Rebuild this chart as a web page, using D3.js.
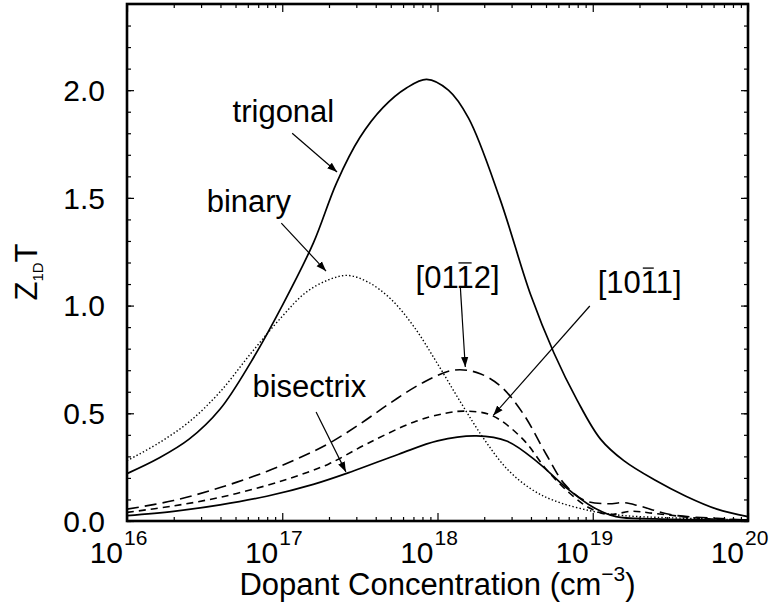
<!DOCTYPE html>
<html>
<head>
<meta charset="utf-8">
<script src="https://cdn.jsdelivr.net/npm/d3@7"></script>
<style>
  body { margin: 0; background: #fff; }
  text { font-family: "Liberation Sans", Arial, Helvetica, sans-serif; fill: #000; }
</style>
</head>
<body>
<script>
// data, x is log10 of concentration (cm^-3)
const trigonalLog = [16.0, 16.2, 16.4, 16.6, 16.8, 17.0, 17.2, 17.35, 17.5, 17.65, 17.8, 17.93, 18.07, 18.2, 18.4, 18.6, 18.75, 18.9, 19.05, 19.2, 19.4, 19.6, 19.8, 20.0];
const trigonalZT = [0.22, 0.29, 0.38, 0.52, 0.74, 1.00, 1.29, 1.57, 1.78, 1.92, 2.01, 2.05, 2.00, 1.87, 1.50, 1.05, 0.78, 0.56, 0.38, 0.28, 0.19, 0.115, 0.055, 0.02];

const binaryLog = [16.0, 16.2, 16.4, 16.6, 16.8, 17.0, 17.15, 17.3, 17.42, 17.55, 17.7, 17.85, 18.0, 18.15, 18.3, 18.45, 18.6, 18.75, 19.0, 19.2, 19.5, 20.0];
const binaryZT = [0.28, 0.36, 0.46, 0.60, 0.78, 0.95, 1.06, 1.12, 1.14, 1.11, 1.03, 0.90, 0.73, 0.55, 0.38, 0.24, 0.15, 0.095, 0.045, 0.025, 0.015, 0.005];

const d0112Log = [16.0, 16.3, 16.6, 16.9, 17.1, 17.3, 17.5, 17.7, 17.9, 18.1, 18.25, 18.4, 18.55, 18.7, 18.82, 18.95, 19.1, 19.2, 19.3, 19.5, 19.8, 20.0];
const d0112ZT = [0.055, 0.095, 0.155, 0.23, 0.29, 0.36, 0.45, 0.55, 0.64, 0.70, 0.69, 0.63, 0.50, 0.31, 0.17, 0.095, 0.08, 0.085, 0.07, 0.03, 0.012, 0.005];

const d1011Log = [16.0, 16.3, 16.6, 16.9, 17.1, 17.3, 17.55, 17.85, 18.05, 18.18, 18.35, 18.55, 18.7, 18.85, 18.98, 19.1, 19.25, 19.4, 19.7, 20.0];
const d1011ZT = [0.04, 0.07, 0.11, 0.165, 0.21, 0.265, 0.36, 0.46, 0.50, 0.51, 0.49, 0.38, 0.24, 0.13, 0.06, 0.03, 0.045, 0.035, 0.012, 0.005];

const bisectrixLog = [16.0, 16.3, 16.6, 16.9, 17.2, 17.45, 17.75, 18.0, 18.25, 18.45, 18.65, 18.82, 19.0, 19.15, 19.4, 20.0];
const bisectrixZT = [0.025, 0.045, 0.075, 0.115, 0.17, 0.23, 0.31, 0.372, 0.395, 0.37, 0.27, 0.16, 0.065, 0.02, 0.01, 0.003];

const yTickValues = [0.0, 0.5, 1.0, 1.5, 2.0];
const yTickLabels = ["0.0", "0.5", "1.0", "1.5", "2.0"];
const xDecades = [16, 17, 18, 19, 20];

const width = 769;
const height = 616;
const margin = { left: 127, right: 21, top: 4, bottom: 95 };

const svg = d3.select('body')
  .append('svg')
  .attr('width', width)
  .attr('height', height);

const x = d3.scaleLog()
  .domain([1e16, 1e20])
  .range([margin.left, width - margin.right]);
const y = d3.scaleLinear()
  .domain([0, 2.4])
  .range([height - margin.bottom, margin.top]);

const lx = (l) => x(Math.pow(10, l));

svg.append('svg:defs').append('svg:marker')
  .attr('id', 'arrow')
  .attr('viewBox', '0 -5 10 10')
  .attr('refX', 10)
  .attr('markerWidth', 10)
  .attr('markerHeight', 10)
  .attr('markerUnits', 'userSpaceOnUse')
  .attr('orient', 'auto')
  .append('svg:path')
  .attr('d', 'M0,-3.6L10,0L0,3.6Z')
  .attr('fill', '#000');

// curves
const series = [
  { xs: trigonalLog, ys: trigonalZT, dash: null, w: 1.7 },
  { xs: binaryLog, ys: binaryZT, dash: '1.4,2.2', w: 1.4 },
  { xs: d0112Log, ys: d0112ZT, dash: '12,6', w: 1.6 },
  { xs: d1011Log, ys: d1011ZT, dash: '7,5', w: 1.6 },
  { xs: bisectrixLog, ys: bisectrixZT, dash: null, w: 1.7 }
];

const line = d3.line()
  .x((d) => lx(d[0]))
  .y((d) => y(d[1]))
  .curve(d3.curveCatmullRom.alpha(0.5));

svg.append('g').selectAll('path')
  .data(series)
  .enter().append('path')
  .attr('d', (s) => line(s.xs.map((v, i) => [v, s.ys[i]])))
  .attr('fill', 'none')
  .attr('stroke', '#000')
  .attr('stroke-width', (s) => s.w)
  .attr('stroke-dasharray', (s) => s.dash);

// frame and ticks
const x0 = margin.left, x1 = width - margin.right;
const y0 = height - margin.bottom, y1 = margin.top;

const minorY = d3.range(0, 24).map((i) => i / 10);
svg.append('g').attr('transform', `translate(${x0},0)`)
  .call(d3.axisLeft(y).tickValues(minorY).tickSize(-4).tickFormat(''));
svg.append('g').attr('transform', `translate(${x1},0)`)
  .call(d3.axisRight(y).tickValues(minorY).tickSize(-4).tickFormat(''));
svg.append('g').attr('transform', `translate(${x0},0)`)
  .call(d3.axisLeft(y).tickValues(yTickValues).tickSize(-7).tickFormat(''));
svg.append('g').attr('transform', `translate(${x1},0)`)
  .call(d3.axisRight(y).tickValues(yTickValues).tickSize(-7).tickFormat(''));

const minorX = [];
for (let d = 16; d < 20; d++) {
  for (let m = 2; m < 10; m++) minorX.push(m * Math.pow(10, d));
}
const majorX = xDecades.map((d) => Math.pow(10, d));
svg.append('g').attr('transform', `translate(0,${y0})`)
  .call(d3.axisBottom(x).tickValues(minorX).tickSize(-4).tickFormat(''));
svg.append('g').attr('transform', `translate(0,${y0})`)
  .call(d3.axisBottom(x).tickValues(majorX).tickSize(-8).tickFormat(''));
svg.append('g').attr('transform', `translate(0,${y1})`)
  .call(d3.axisTop(x).tickValues(minorX).tickSize(-4).tickFormat(''));
svg.append('g').attr('transform', `translate(0,${y1})`)
  .call(d3.axisTop(x).tickValues(majorX).tickSize(-8).tickFormat(''));

svg.selectAll('.domain').remove();
svg.selectAll('.tick line').attr('stroke', '#000').attr('stroke-width', 1.2);

svg.append('rect')
  .attr('x', x0).attr('y', y1)
  .attr('width', x1 - x0).attr('height', y0 - y1)
  .attr('fill', 'none')
  .attr('stroke', '#000')
  .attr('stroke-width', 2.6);

// y tick labels
svg.append('g').selectAll('text')
  .data(yTickValues)
  .enter().append('text')
  .attr('x', 105)
  .attr('y', (d) => y(d))
  .attr('dy', '0.36em')
  .attr('text-anchor', 'end')
  .style('font-size', '30px')
  .text((d, i) => yTickLabels[i]);

// x tick labels 10^n
const xl = svg.append('g').selectAll('g')
  .data(xDecades)
  .enter().append('g');
xl.append('text')
  .attr('x', (d) => lx(d) - 4)
  .attr('y', 563)
  .attr('text-anchor', 'end')
  .style('font-size', '30px')
  .text('10');
xl.append('text')
  .attr('x', (d) => lx(d) - 3)
  .attr('y', 545)
  .style('font-size', '21px')
  .text((d) => d);

// axis titles
const xt = svg.append('text')
  .attr('x', (x0 + x1) / 2)
  .attr('y', 595)
  .attr('text-anchor', 'middle')
  .style('font-size', '31px');
xt.append('tspan').text('Dopant Concentration (cm');
xt.append('tspan').attr('dy', -14).style('font-size', '21px').text('−3');
xt.append('tspan').attr('dy', 14).text(')');

const yt = svg.append('text')
  .attr('transform', 'translate(37,272) rotate(-90)')
  .attr('text-anchor', 'middle')
  .style('font-size', '31px');
yt.append('tspan').text('Z');
yt.append('tspan').attr('dy', 6).style('font-size', '15px').text('1D');
yt.append('tspan').attr('dy', -6).text('T');

// annotations (text position and arrow in data units)
const notes = [
  { label: 'trigonal', tx: 16.68, ty: 1.852, a: [17.064, 1.80, 17.353, 1.62] },
  { label: 'binary', tx: 16.513, ty: 1.434, a: [16.994, 1.383, 17.282, 1.16] },
  { label: 'bisectrix', tx: 16.808, ty: 0.576, a: [17.218, 0.506, 17.41, 0.228] }
];
const millerNotes = [
  { label: '[0112]', bar: 3, tx: 17.859, ty: 1.082, a: [18.147, 1.086, 18.179, 0.715] },
  { label: '[1011]', bar: 3, tx: 19.032, ty: 1.058, a: [18.981, 0.998, 18.359, 0.49] }
];

const arrow = (g, a) => g.append('line')
  .attr('x1', lx(a[0])).attr('y1', y(a[1]))
  .attr('x2', lx(a[2])).attr('y2', y(a[3]))
  .attr('stroke', '#000')
  .attr('stroke-width', 1.2)
  .attr('marker-end', 'url(#arrow)');

notes.forEach((n) => {
  const g = svg.append('g');
  g.append('text')
    .attr('x', lx(n.tx))
    .attr('y', y(n.ty))
    .style('font-size', '31px')
    .text(n.label);
  arrow(g, n.a);
});

millerNotes.forEach((n) => {
  const g = svg.append('g');
  const t = g.append('text')
    .attr('x', lx(n.tx))
    .attr('y', y(n.ty))
    .style('font-size', '31px')
    .text(n.label);
  // bar over the negative index
  const box = t.node().getExtentOfChar(n.bar);
  g.append('line')
    .attr('x1', box.x + 2).attr('x2', box.x + box.width - 2)
    .attr('y1', y(n.ty) - 25).attr('y2', y(n.ty) - 25)
    .attr('stroke', '#000')
    .attr('stroke-width', 1.3);
  arrow(g, n.a);
});
</script>
</body>
</html>
